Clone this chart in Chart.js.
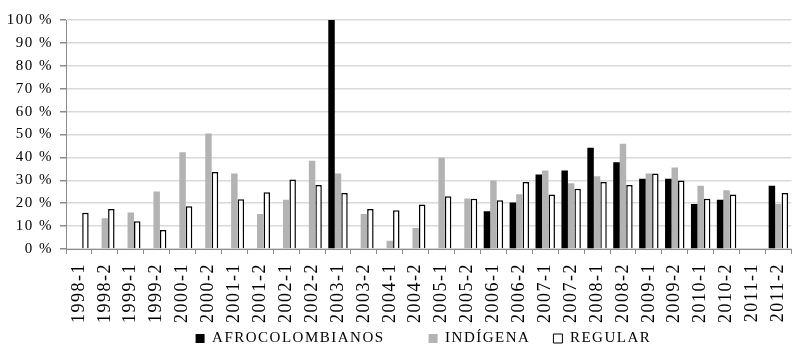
<!DOCTYPE html>
<html>
<head>
<meta charset="utf-8">
<script src="https://cdn.jsdelivr.net/npm/chart.js@4/dist/chart.umd.min.js"></script>
<style>
  html, body { margin: 0; padding: 0; background: #fff; overflow: hidden; }
  #wrap { width: 809px; height: 346px; }
</style>
</head>
<body>
<div id="wrap"><canvas id="chart" width="809" height="346"></canvas></div>
<script>
const periods = [
  "1998-1", "1998-2", "1999-1", "1999-2", "2000-1", "2000-2", "2001-1",
  "2001-2", "2002-1", "2002-2", "2003-1", "2003-2", "2004-1", "2004-2",
  "2005-1", "2005-2", "2006-1", "2006-2", "2007-1", "2007-2", "2008-1",
  "2008-2", "2009-1", "2009-2", "2010-1", "2010-2", "2011-1", "2011-2"
];
const afro = [
  null, null, null, null, null, null, null, null, null, null, 100, null,
  null, null, null, null, 16.5, 20.3, 32.5, 34.3, 44.2, 37.9, 30.7, 30.7,
  19.7, 21.5, null, 27.6
];
const indigena = [
  null, 13.4, 15.9, 25.1, 42.2, 50.4, 33, 15.3, 21.5, 38.5, 33, 15.3,
  3.6, 9.2, 39.9, 22, 29.9, 23.9, 34.3, 28.7, 31.8, 46, 33, 35.6,
  27.6, 25.7, null, 19.7
];
const regular = [
  15.8, 17.5, 12.1, 8.3, 18.7, 33.6, 21.7, 24.8, 30.4, 28, 24.4, 17.5,
  16.9, 19.4, 23, 21.9, 21.3, 29.3, 23.8, 26.3, 29.3, 28, 33, 29.9,
  21.9, 23.8, null, 24.4
];
const yTicks = [0, 10, 20, 30, 40, 50, 60, 70, 80, 90, 100];

const serif = "'Liberation Serif', 'Times New Roman', serif";
const axisGray = "#8c8c8c";

// the original text looks a bit stretched, so widen it slightly
const spacing = {
  id: "spacing",
  beforeUpdate(chart) { chart.ctx.letterSpacing = "1.5px"; },
  beforeDraw(chart) { chart.ctx.letterSpacing = "1.5px"; }
};

// extra blank space after each legend entry, to space them like the original
const legendGaps = [8, 4, 2];

const ctx = document.getElementById("chart").getContext("2d");
new Chart(ctx, {
  type: "bar",
  plugins: [spacing],
  data: {
    labels: periods,
    datasets: [
      { label: "AFROCOLOMBIANOS", data: afro, backgroundColor: "#000000", borderWidth: 0 },
      { label: "INDÍGENA", data: indigena, backgroundColor: "#b3b3b3", borderWidth: 0 },
      { label: "REGULAR", data: regular, backgroundColor: "#ffffff", borderColor: "#000000", borderWidth: 1.5 }
    ]
  },
  options: {
    responsive: false,
    animation: false,
    devicePixelRatio: 1,
    layout: { padding: { top: 20, right: 1, bottom: -10, left: 0 } },
    datasets: {
      bar: { categoryPercentage: 0.75, barPercentage: 1.0 }
    },
    plugins: {
      tooltip: { enabled: false },
      legend: {
        position: "bottom",
        fullSize: false,
        labels: {
          font: { family: serif, size: 15 },
          color: "#000",
          boxWidth: 9,
          boxHeight: 9,
          padding: 2,
          generateLabels(chart) {
            const items = Chart.defaults.plugins.legend.labels.generateLabels(chart);
            items.forEach((it, i) => {
              it.text = it.text + " ".repeat(legendGaps[i]);
              it.lineWidth = i === 2 ? 1 : 0;
            });
            return items;
          }
        }
      }
    },
    scales: {
      x: {
        afterFit(scale) { scale.height = 80; },
        grid: {
          display: true,
          drawOnChartArea: false,
          drawTicks: true,
          tickLength: 5,
          color: axisGray
        },
        border: { color: axisGray, width: 1 },
        ticks: {
          autoSkip: false,
          maxRotation: 90,
          minRotation: 90,
          padding: 9,
          color: "#000",
          font: { family: serif, size: 18 }
        }
      },
      y: {
        min: 0,
        max: 100,
        afterFit(scale) { scale.width = 66; },
        afterBuildTicks(scale) { scale.ticks = yTicks.map(v => ({ value: v })); },
        grid: {
          color: "#d9d9d9",
          lineWidth: 1.5,
          tickColor: axisGray,
          tickLength: 6
        },
        border: { color: axisGray, width: 1 },
        ticks: {
          padding: 7,
          color: "#000",
          font: { family: serif, size: 15 },
          callback: v => v + " %"
        }
      }
    }
  }
});
</script>
</body>
</html>
